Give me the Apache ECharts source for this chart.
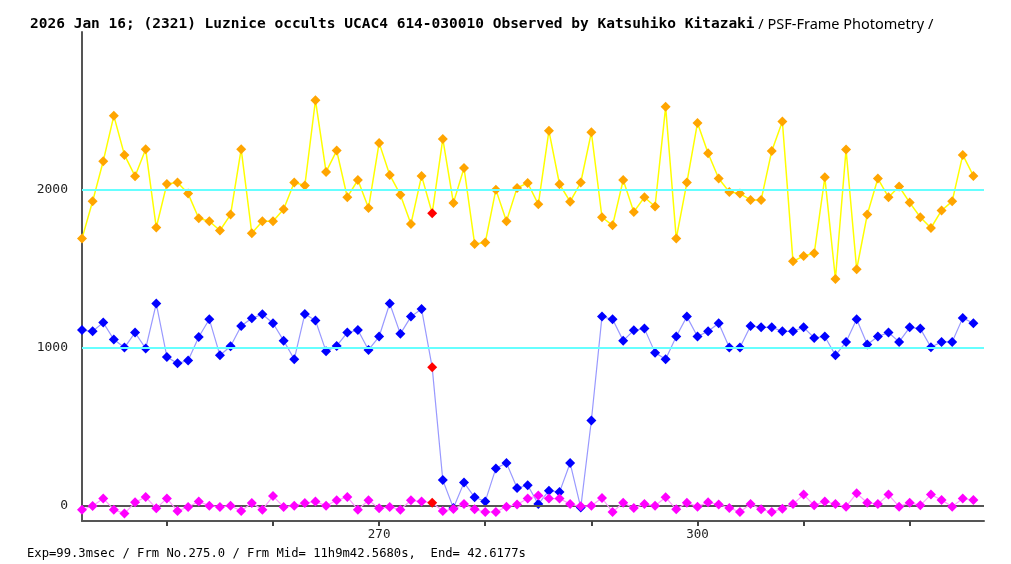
<!DOCTYPE html>
<html>
<head>
<meta charset="utf-8">
<script src="https://cdn.jsdelivr.net/npm/echarts@6/dist/echarts.min.js"></script>
<style>
  html, body { margin: 0; padding: 0; background: #fff; }
  #chart { width: 1011px; height: 564px; }
</style>
</head>
<body>
<div id="chart"></div>
<script>
// frame numbers (x)
var frames = [242,243,244,245,246,247,248,249,250,251,252,253,254,255,256,257,258,259,260,261,
    262,263,264,265,266,267,268,269,270,271,272,273,274,275,276,277,278,279,280,281,
    282,283,284,285,286,287,288,289,290,291,292,293,294,295,296,297,298,299,300,301,
    302,303,304,305,306,307,308,309,310,311,312,313,314,315,316,317,318,319,320,321,
    322,323,324,325,326];

// comparison star (yellow / orange)
var compStar = [1692,1928,2182,2469,2222,2087,2258,1762,2038,2047,
    1977,1821,1802,1743,1844,2258,1726,1802,1802,1878,
    2047,2028,2568,2114,2249,1954,2063,1886,2298,2095,
    1970,1785,2089,1852,2323,1918,2139,1658,1667,2002,
    1802,2013,2044,1909,2374,2036,1926,2047,2365,1827,
    1776,2063,1861,1954,1895,2526,1692,2047,2424,2232,
    2072,1987,1977,1937,1937,2247,2433,1548,1582,1599,
    2080,1436,2256,1498,1844,2072,1954,2022,1920,1827,
    1759,1870,1928,2222,2089];

// target star (blue)
var target = [1113,1105,1160,1053,1002,1097,996,1281,943,902,
    920,1069,1181,953,1010,1139,1187,1213,1156,1046,
    928,1215,1173,978,1012,1097,1113,987,1072,1281,
    1089,1198,1246,877,163,-14,147,54,28,237,
    271,113,130,11,96,87,271,-11,540,1198,
    1181,1046,1111,1122,970,928,1072,1198,1072,1105,
    1156,1002,1002,1139,1130,1130,1105,1105,1130,1063,
    1072,953,1038,1181,1021,1072,1097,1038,1130,1122,
    1004,1038,1038,1190,1156];

// background (magenta)
var background = [-24,-1,47,-24,-49,22,56,-16,47,-33,
    -7,27,1,-7,1,-33,18,-24,62,-7,
    1,18,27,1,35,56,-24,35,-16,-7,
    -24,35,27,20,-33,-20,11,-22,-39,-39,
    -5,8,46,66,46,46,11,-3,0,49,
    -39,20,-14,11,0,54,-22,20,-5,22,
    8,-14,-39,11,-22,-39,-18,11,71,3,
    28,11,-5,79,20,11,71,-5,20,3,
    71,37,-5,46,37];

var markedFrame = 275;
var refLevels = [1000, 2000];
var xTicks = [250, 260, 270, 280, 290, 300, 310, 320];
var xLabels = [270, 300];
var yLabels = [0, 1000, 2000];

var titleBold = '2026 Jan 16; (2321) Luznice occults UCAC4 614-030010 Observed by Katsuhiko Kitazaki';
var titleThin = ' / PSF-Frame Photometry /';
var footer = 'Exp=99.3msec / Frm No.275.0 / Frm Mid= 11h9m42.5680s,  End= 42.6177s';

function build(values) {
    return values.map(function (v, i) {
        var item = { value: [frames[i], v] };
        if (frames[i] === markedFrame) {
            item.itemStyle = { color: '#ff0000' };
        }
        return item;
    });
}

var chart = echarts.init(document.getElementById('chart'));

var option = {
    animation: false,
    backgroundColor: '#ffffff',
    title: {
        left: 25,
        top: 12,
        text: '{b|' + titleBold + '}{n|' + titleThin + '}',
        textStyle: {
            fontWeight: 'normal',
            rich: {
                b: { fontFamily: 'DejaVu Sans Mono', fontWeight: 'bold', fontSize: 14.5, color: '#000' },
                n: { fontFamily: 'Noto Sans', fontWeight: 'normal', fontSize: 14.5, color: '#000' }
            }
        }
    },
    graphic: [{
        type: 'text',
        left: 27,
        top: 548,
        style: {
            text: footer,
            font: '12.2px "DejaVu Sans Mono"',
            fill: '#000'
        }
    }],
    grid: { left: 82, right: 27, top: 32, bottom: 43 },
    xAxis: {
        type: 'value',
        min: 242,
        max: 327,
        axisLine: { onZero: false, lineStyle: { color: '#555', width: 2 } },
        axisTick: { customValues: xTicks, length: 5, lineStyle: { color: '#444', width: 2 } },
        axisLabel: {
            customValues: xLabels,
            margin: 7,
            fontFamily: 'DejaVu Sans Mono',
            fontSize: 12.5,
            color: '#222'
        },
        splitLine: { show: false }
    },
    yAxis: {
        type: 'value',
        min: -96,
        max: 3000,
        axisLine: { show: true, lineStyle: { color: '#555', width: 2 } },
        axisTick: { show: false },
        axisLabel: {
            customValues: yLabels,
            formatter: function (v) { return String(v); },
            margin: 14,
            fontFamily: 'DejaVu Sans Mono',
            fontSize: 13,
            color: '#222',
            padding: [0, 0, 8, 0]
        },
        splitLine: { show: false }
    },
    series: [{
        type: 'line',
        data: [],
        z: 1,
        silent: true,
        markLine: {
            silent: true,
            symbol: 'none',
            label: { show: false },
            animation: false,
            data: [
                { yAxis: 0, lineStyle: { color: '#555', width: 2, type: 'solid' } },
                { yAxis: refLevels[0], lineStyle: { color: '#66ffff', width: 2, type: 'solid' } },
                { yAxis: refLevels[1], lineStyle: { color: '#66ffff', width: 2, type: 'solid' } }
            ]
        }
    }, {
        type: 'line',
        name: 'comparison',
        z: 3,
        data: build(compStar),
        symbol: 'diamond',
        symbolSize: 10,
        itemStyle: { color: '#ffa500' },
        lineStyle: { color: '#ffff00', width: 1.5 }
    }, {
        type: 'line',
        name: 'target',
        z: 4,
        data: build(target),
        symbol: 'diamond',
        symbolSize: 10,
        itemStyle: { color: '#0000ff' },
        lineStyle: { color: '#9999ff', width: 1.2 }
    }, {
        type: 'line',
        name: 'background',
        z: 5,
        data: build(background),
        symbol: 'diamond',
        symbolSize: 10,
        itemStyle: { color: '#ff00ff' },
        lineStyle: { color: '#ff99ff', width: 1.2 }
    }]
};

chart.setOption(option);
window.onresize = chart.resize;
</script>
</body>
</html>
